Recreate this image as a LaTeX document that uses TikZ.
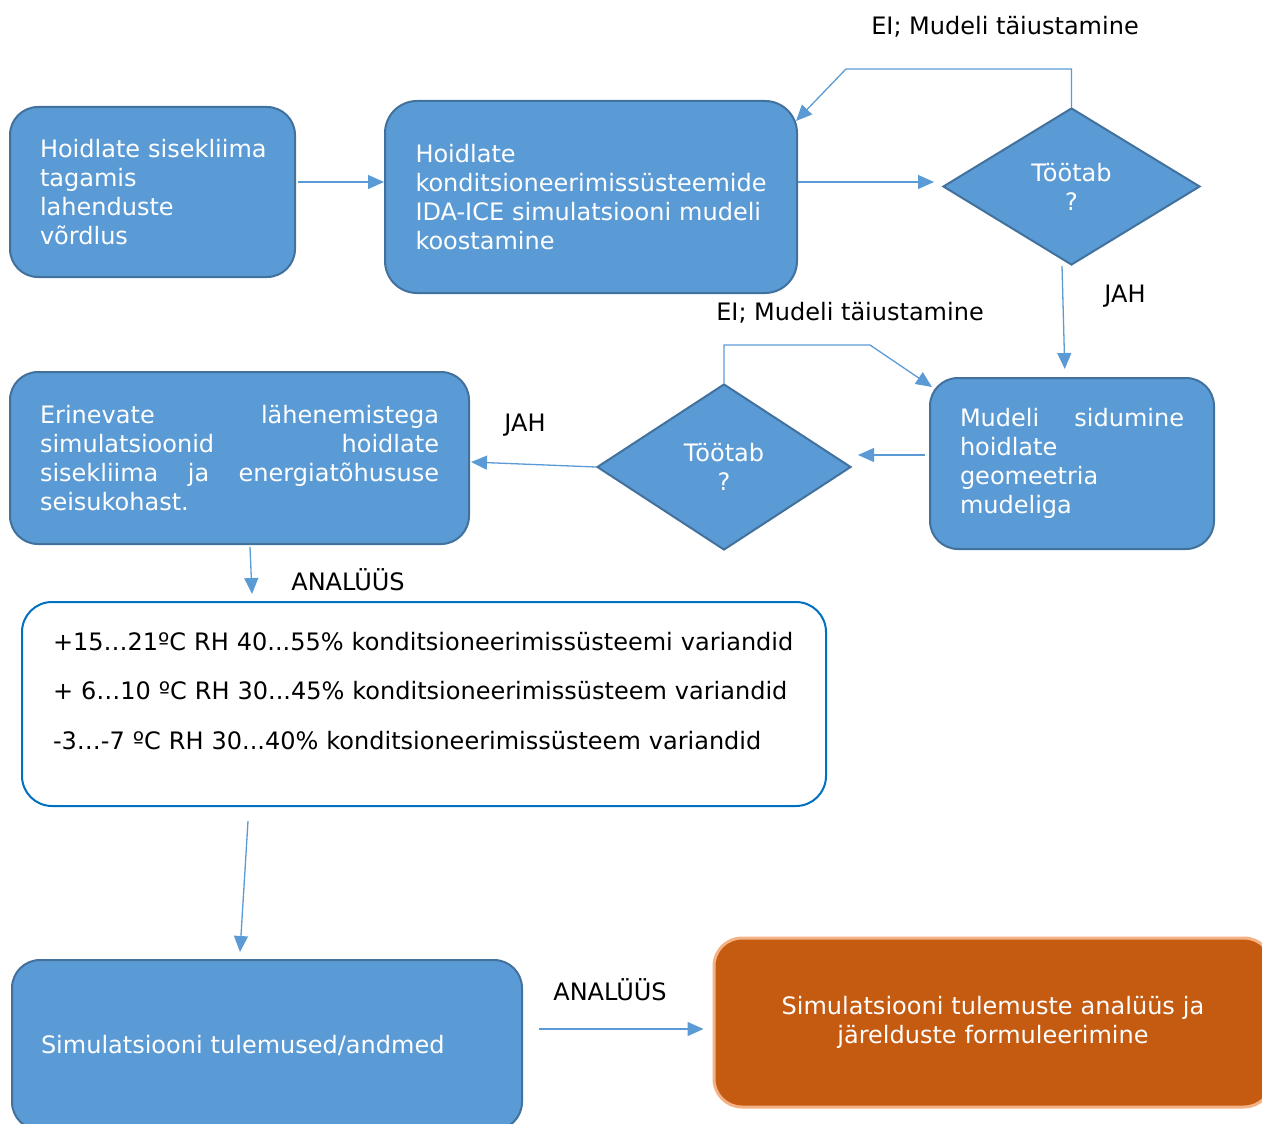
\documentclass[tikz,border=0pt]{standalone}
\usepackage{fontspec}
\setmainfont{DejaVu Sans}
\usetikzlibrary{shapes.geometric,arrows.meta}

\definecolor{boxfill}{HTML}{5B9BD5}
\definecolor{boxedge}{HTML}{41719C}
\definecolor{arrowblue}{HTML}{5B9BD5}
\definecolor{listedge}{HTML}{0070C0}
\definecolor{resultfill}{HTML}{C55A11}
\definecolor{resultedge}{HTML}{F4B183}

\tikzset{
  blockbox/.style={draw=boxedge, fill=boxfill, line width=2pt, rounded corners=28pt,
    text=white, align=left, inner xsep=30pt, inner ysep=0pt},
  decision/.style={diamond, draw=boxedge, fill=boxfill, line width=2pt,
    text=white, align=center, inner sep=0pt},
  flowarrow/.style={arrowblue, line width=1.3pt, -{Triangle[length=16pt,width=14pt]}},
}

\begin{document}
\begin{tikzpicture}[x=1pt, y=-1pt, every node/.style={font=\fontsize{24}{29}\selectfont}]
  \useasboundingbox (0,0) rectangle (1262,1124);

  % Top row
  \node[blockbox, minimum width=285pt, minimum height=170pt, text width=225pt] (compare) at (152.5,192)
    {\mbox{Hoidlate sisekliima}\\ tagamis\\ lahenduste\\ võrdlus};
  \node[blockbox, rounded corners=32pt, minimum width=412pt, minimum height=192pt, text width=351pt,
    inner xsep=30.5pt] (model) at (591,197)
    {Hoidlate\\ konditsioneerimissüsteemide\\ IDA-ICE simulatsiooni mudeli\\ koostamine};
  \node[decision, minimum width=257pt, minimum height=157pt] (works1) at (1071.5,186.5) {Töötab\\?};

  % Middle row
  \node[blockbox, minimum width=284pt, minimum height=171pt, text width=224pt] (link) at (1072,463.5)
    {Mudeli\hfill sidumine\\ hoidlate\\ geomeetria\\ mudeliga};
  \node[decision, minimum width=254pt, minimum height=166pt] (works2) at (724,467) {Töötab\\?};
  \node[blockbox, minimum width=459pt, minimum height=172pt, text width=399pt] (approaches) at (239.5,458)
    {Erinevate\hfill lähenemistega\\ simulatsioonid\hfill hoidlate\\
     sisekliima\hfill ja\hfill energiatõhususe\\ seisukohast.};

  % Variants list
  \node[draw=listedge, line width=2pt, rounded corners=30pt, fill=white, align=left,
    minimum width=804pt, minimum height=204pt, text width=742pt, inner xsep=31pt,
    font=\fontsize{24}{49.5}\selectfont] (variants) at (424,704)
    {+15…21ºC RH 40...55\% konditsioneerimissüsteemi variandid\\
     + 6…10 ºC RH 30...45\% konditsioneerimissüsteem variandid\\
     -3…-7 ºC RH 30...40\% konditsioneerimissüsteem variandid\rule[-27pt]{0pt}{27pt}};

  % Bottom row
  \node[blockbox, minimum width=510pt, minimum height=170pt, text width=452pt, inner xsep=29pt]
    (results) at (267,1045) {Simulatsiooni tulemused/andmed};
  \node[draw=resultedge, fill=resultfill, line width=3pt, rounded corners=28pt, text=white,
    align=center, minimum width=558pt, minimum height=169pt, text width=500pt]
    (conclusion) at (993,1022.5) {Simulatsiooni tulemuste analüüs ja\\ järelduste formuleerimine};

  % Labels
  \node (retry1) at (1005,27) {EI; Mudeli täiustamine};
  \node (yes1) at (1125,296) {JAH};
  \node (retry2) at (850,313) {EI; Mudeli täiustamine};
  \node (yes2) at (525,425) {JAH};
  \node (analysis1) at (348,580) {ANALÜÜS};
  \node (analysis2) at (610,990) {ANALÜÜS};

  % Bends
  \coordinate (bend1) at (846,69);
  \coordinate (bend2) at (870,345);

  % Arrows
  \draw[flowarrow, shorten <=2pt] (compare.east |- 0,182) -- (model.west |- 0,182);
  \draw[flowarrow, shorten >=8pt] (model.east |- 0,182) -- (works1.west |- 0,182);
  \draw[flowarrow] (works1.north) |- (bend1) -- ([shift={(-2pt,-21pt)}]model.north east);
  \draw[flowarrow, shorten >=8pt] ([xshift=-9.5pt]works1.south) -- ([xshift=-7pt]link.north);
  \draw[flowarrow, shorten <=4pt, shorten >=6pt] (link.west |- 0,455) -- (works2.east |- 0,455);
  \draw[flowarrow] (works2.north) |- (bend2) -- ([shift={(3pt,-10pt)}]link.north west);
  \draw[flowarrow] (works2.west) -- ([shift={(1pt,-4pt)}]approaches.east);
  \draw[flowarrow] ([shift={(10.5pt,-2pt)}]approaches.south) -- ([shift={(-172pt,7pt)}]variants.north);
  \draw[flowarrow] ([shift={(-176pt,-14pt)}]variants.south) -- ([shift={(-27pt,7pt)}]results.north);
  \draw[flowarrow, shorten <=16pt, shorten >=9pt] (results.east |- 0,1029) -- (conclusion.west |- 0,1029);
\end{tikzpicture}
\end{document}
